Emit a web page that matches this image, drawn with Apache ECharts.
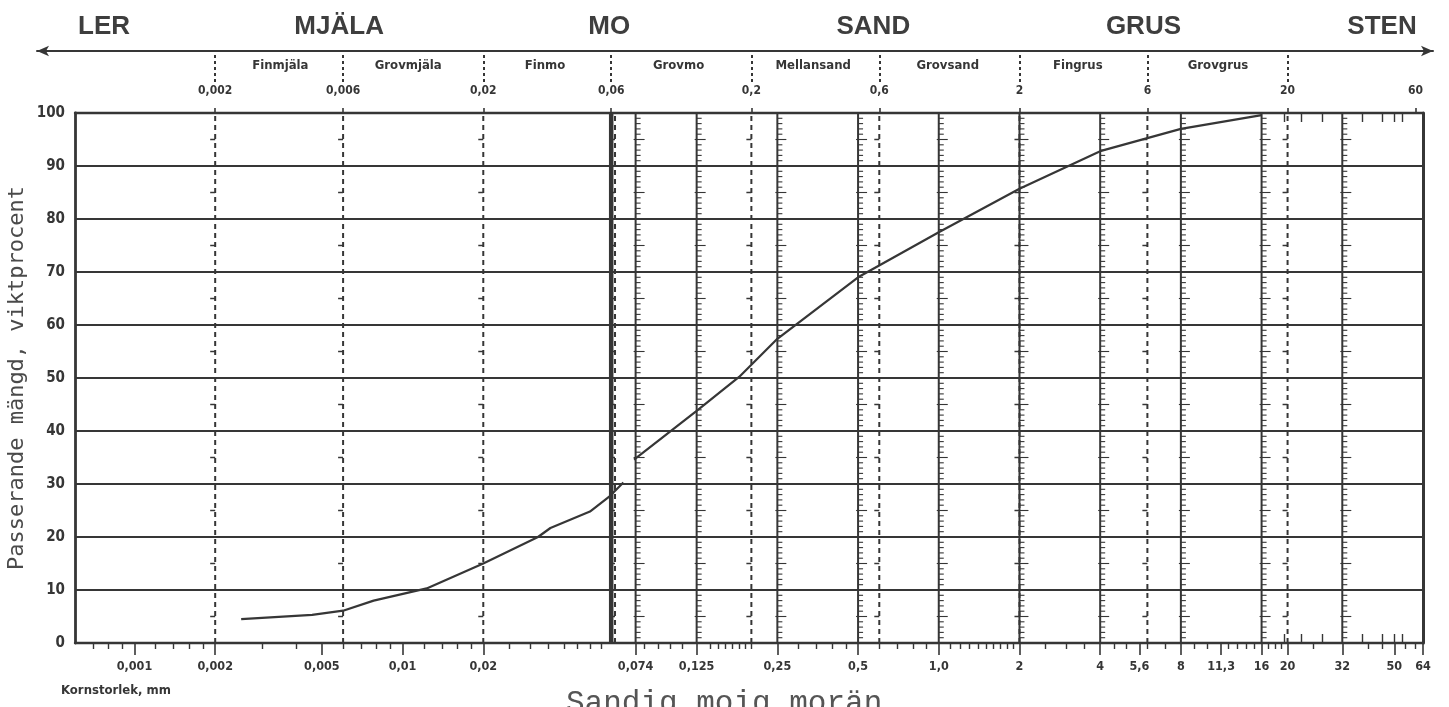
<!DOCTYPE html>
<html><head><meta charset="utf-8">
<script src="https://cdn.jsdelivr.net/npm/echarts@6/dist/echarts.min.js"></script>
<style>html,body{margin:0;padding:0;background:#fff}#c{width:1449px;height:707px}</style>
</head><body><div id="c"></div>
<script>
// ---- data ----
const hydroSizes   = [0.0025, 0.0046, 0.006, 0.0078, 0.0123, 0.02, 0.032, 0.0356, 0.05, 0.059, 0.0666];
const hydroPassing = [4.5, 5.3, 6.1, 8.0, 10.3, 15.0, 20.0, 21.7, 24.8, 27.6, 30.3];
const sieveSizes   = [0.073, 0.125, 0.18, 0.25, 0.5, 1.0, 2.0, 4.0, 8.0, 16.0];
const sievePassing = [34.6, 43.8, 50.2, 57.4, 69.0, 77.5, 85.7, 92.8, 97.0, 99.6];

// ---- axis / reference lines ----
const sieveLineSizes = [0.074, 0.125, 0.25, 0.5, 1.0, 2, 4, 8, 16, 32];
const thickLineSizes = [0.06];
const dashedLineSizes = [0.002, 0.006, 0.02, 0.062, 0.2, 0.6, 2, 6, 20];

const bottomTickValues = [0.001, 0.002, 0.005, 0.01, 0.02, 0.074, 0.125, 0.25, 0.5, 1.0, 2, 4, 5.6, 8, 11.3, 16, 20, 32, 50, 64];
const bottomTickLabels = ['0,001','0,002','0,005','0,01','0,02','0,074','0,125','0,25','0,5','1,0','2','4','5,6','8','11,3','16','20','32','50','64'];
const bottomMinorTicks = [0.0007, 0.0008, 0.0009, 0.0012, 0.0014, 0.0016, 0.0018, 0.003, 0.004, 0.006, 0.007, 0.008, 0.009,
  0.012, 0.014, 0.016, 0.018, 0.025, 0.03, 0.035, 0.04, 0.045, 0.05, 0.055, 0.08, 0.09, 0.1, 0.11,
  0.14, 0.15, 0.16, 0.17, 0.18, 0.19, 0.2, 0.3, 0.35, 0.4, 0.45, 0.6, 0.7, 0.8, 0.9,
  1.1, 1.2, 1.3, 1.4, 1.5, 1.6, 1.7, 1.8, 1.9, 2.5, 3, 3.5, 4.5, 5, 6, 7, 9, 10, 12, 13, 14, 15,
  17, 18, 19, 25, 40, 45, 55, 60];
const insideTicks = [19.5, 22.4, 27, 38, 45, 50, 53.5];

const topTickValues = [0.002, 0.006, 0.02, 0.06, 0.2, 0.6, 2, 6, 20, 60];
const topTickLabels = ['0,002','0,006','0,02','0,06','0,2','0,6','2','6','20','60'];

const classBounds = [0.002, 0.006, 0.02, 0.06, 0.2, 0.6, 2, 6, 20];
const subClassNames = ['Finmjäla','Grovmjäla','Finmo','Grovmo','Mellansand','Grovsand','Fingrus','Grovgrus'];
const subClassPos   = [0.0035, 0.0105, 0.034, 0.107, 0.34, 1.08, 3.3, 11];
const mainClassNames = ['LER','MJÄLA','MO','SAND','GRUS','STEN'];
const mainClassPos   = [0.00077, 0.0058, 0.059, 0.57, 5.8, 45];

const minSize = 0.0006, maxSize = 64;
const INK = '#363636';
const SANS = '"DejaVu Sans Condensed", "DejaVu Sans", sans-serif';

function lookup(values, labels) {
  return function (v) {
    let best = 0, bd = Infinity;
    for (let i = 0; i < values.length; i++) {
      const d = Math.abs(Math.log(v / values[i]));
      if (d < bd) { bd = d; best = i; }
    }
    return labels[best];
  };
}
function logAxis(extra) {
  return Object.assign({
    type: 'log', logBase: 10, min: minSize, max: maxSize, gridIndex: 0,
    splitLine: { show: false }, axisLine: { show: false },
    axisTick: { show: false }, axisLabel: { show: false }
  }, extra);
}

const chart = echarts.init(document.getElementById('c'), null, { renderer: 'canvas' });
const option = {
  animation: false,
  backgroundColor: '#fff',
  title: [
    { text: 'Sandig moig morän', left: 566, top: 688, padding: 0,
      textStyle: { fontFamily: '"Liberation Mono", "DejaVu Sans Mono", monospace', fontSize: 31, fontWeight: 'normal', color: '#555' } },
    { text: 'Kornstorlek, mm', left: 61, top: 684, padding: 0,
      textStyle: { fontFamily: SANS, fontSize: 13, fontWeight: 'bold', color: INK } }
  ],
  grid: [
    { left: 75, right: 26, top: 113, bottom: 64, containLabel: false, outerBoundsMode: 'none' },
    { left: 37, right: 16, top: 113, bottom: 64, containLabel: false, outerBoundsMode: 'none' }
  ],
  xAxis: [
    logAxis({ position: 'bottom',
      axisLine: { show: true, onZero: false, lineStyle: { color: INK, width: 2.4 } },
      axisTick: { show: true, customValues: bottomTickValues, length: 12, lineStyle: { color: INK, width: 1.6 } },
      axisLabel: { show: true, customValues: bottomTickValues, formatter: lookup(bottomTickValues, bottomTickLabels),
        margin: 17, fontFamily: SANS, fontWeight: 'bold', fontSize: 12.5, color: INK } }),
    logAxis({ position: 'bottom',
      axisTick: { show: true, customValues: bottomMinorTicks, length: 6, lineStyle: { color: INK, width: 1.4 } } }),
    logAxis({ position: 'bottom',
      axisTick: { show: true, inside: true, customValues: insideTicks, length: 9, lineStyle: { color: INK, width: 1.4 } } }),
    logAxis({ position: 'top',
      axisLine: { show: true, onZero: false, lineStyle: { color: INK, width: 2.4 } },
      axisTick: { show: true, customValues: topTickValues, length: 5, lineStyle: { color: INK, width: 1.6 } },
      axisLabel: { show: true, customValues: topTickValues, formatter: lookup(topTickValues, topTickLabels),
        margin: 16, fontFamily: SANS, fontWeight: 'bold', fontSize: 12, color: INK } }),
    logAxis({ position: 'top',
      axisTick: { show: true, inside: true, customValues: insideTicks, length: 9, lineStyle: { color: INK, width: 1.4 } } }),
    logAxis({ position: 'top', offset: 31,
      axisTick: { show: true, customValues: classBounds, length: 32, lineStyle: { color: INK, width: 2, type: [3, 3] } },
      axisLabel: { show: true, customValues: subClassPos, formatter: lookup(subClassPos, subClassNames),
        margin: 10, fontFamily: SANS, fontWeight: 'bold', fontSize: 13, color: INK } }),
    logAxis({ position: 'top', offset: 62,
      axisLabel: { show: true, customValues: mainClassPos, formatter: lookup(mainClassPos, mainClassNames),
        margin: 11, fontFamily: '"Liberation Sans", Arial, sans-serif', fontWeight: 'bold', fontSize: 26, color: '#3e3e3e' } }),
    { type: 'value', gridIndex: 1, min: 0, max: 1, position: 'top', offset: 62,
      axisLine: { show: true, onZero: false, symbol: ['arrow', 'arrow'], symbolSize: [8, 12], lineStyle: { color: INK, width: 2 } },
      axisTick: { show: false }, axisLabel: { show: false }, splitLine: { show: false } }
  ],
  yAxis: [
    { type: 'value', gridIndex: 0, min: 0, max: 100, interval: 10,
      name: 'Passerande mängd, viktprocent', nameLocation: 'middle', nameGap: 47, nameMoveOverlap: false,
      nameTextStyle: { fontFamily: '"DejaVu Sans Mono", monospace', fontSize: 22, color: '#4a4a4a' },
      axisLine: { show: true, onZero: false, lineStyle: { color: INK, width: 2.8 } },
      axisTick: { show: false },
      axisLabel: { margin: 10, fontFamily: '"Liberation Sans Narrow", "DejaVu Sans Condensed", sans-serif', fontWeight: 'bold', fontSize: 15, color: INK },
      splitLine: { show: true, lineStyle: { color: INK, width: 1.8 } } },
    { type: 'value', gridIndex: 0, min: 0, max: 100, position: 'right',
      axisLine: { show: true, onZero: false, lineStyle: { color: INK, width: 3 } },
      axisTick: { show: false }, axisLabel: { show: false }, splitLine: { show: false } },
    { type: 'value', gridIndex: 1, min: 0, max: 1, show: false }
  ],
  series: [
    { type: 'custom', name: 'sieveLines', xAxisIndex: 0, yAxisIndex: 0, z: 2, silent: true,
      data: sieveLineSizes.map(v => [v, 0]),
      renderItem: function (params, api) {
        const v = api.value(0);
        const b = api.coord([v, 0]), t = api.coord([v, 100]);
        const ch = [{ type: 'line', shape: { x1: b[0], y1: b[1], x2: t[0], y2: t[1] }, style: { stroke: INK, lineWidth: 2 } }];
        for (let p = 1; p < 100; p++) {
          if (p % 10 === 0) continue;
          const pt = api.coord([v, p]);
          const long = p % 5 === 0;
          ch.push({ type: 'line', shape: { x1: pt[0] - (long ? 2 : 0), y1: pt[1], x2: pt[0] + (long ? 9 : 5), y2: pt[1] },
            style: { stroke: INK, lineWidth: 1.1 } });
        }
        return { type: 'group', children: ch };
      } },
    { type: 'custom', name: 'classBounds', xAxisIndex: 0, yAxisIndex: 0, z: 2, silent: true,
      data: dashedLineSizes.map(v => [v, 0]),
      renderItem: function (params, api) {
        const v = api.value(0);
        const b = api.coord([v, 0]), t = api.coord([v, 100]);
        const ch = [{ type: 'line', shape: { x1: b[0], y1: b[1], x2: t[0], y2: t[1] }, style: { stroke: INK, lineWidth: 2, lineDash: [5, 4] } }];
        for (let p = 5; p < 100; p += 10) {
          const pt = api.coord([v, p]);
          ch.push({ type: 'line', shape: { x1: pt[0] - 5, y1: pt[1], x2: pt[0], y2: pt[1] }, style: { stroke: INK, lineWidth: 1.5 } });
        }
        return { type: 'group', children: ch };
      } },
    { type: 'custom', name: 'thick', xAxisIndex: 0, yAxisIndex: 0, z: 2, silent: true,
      data: thickLineSizes.map(v => [v, 0]),
      renderItem: function (params, api) {
        const v = api.value(0);
        const b = api.coord([v, 0]), t = api.coord([v, 100]);
        return { type: 'line', shape: { x1: b[0], y1: b[1], x2: t[0], y2: t[1] }, style: { stroke: INK, lineWidth: 4.5 } };
      } },
    { type: 'line', name: 'hydrometer', xAxisIndex: 0, yAxisIndex: 0, z: 5,
      data: hydroSizes.map((s, i) => [s, hydroPassing[i]]),
      showSymbol: false, symbol: 'none', lineStyle: { color: INK, width: 2.2 } },
    { type: 'line', name: 'sieve', xAxisIndex: 0, yAxisIndex: 0, z: 5,
      data: sieveSizes.map((s, i) => [s, sievePassing[i]]),
      showSymbol: false, symbol: 'none', lineStyle: { color: INK, width: 2.2 } }
  ]
};
chart.setOption(option);
</script>
</body></html>
